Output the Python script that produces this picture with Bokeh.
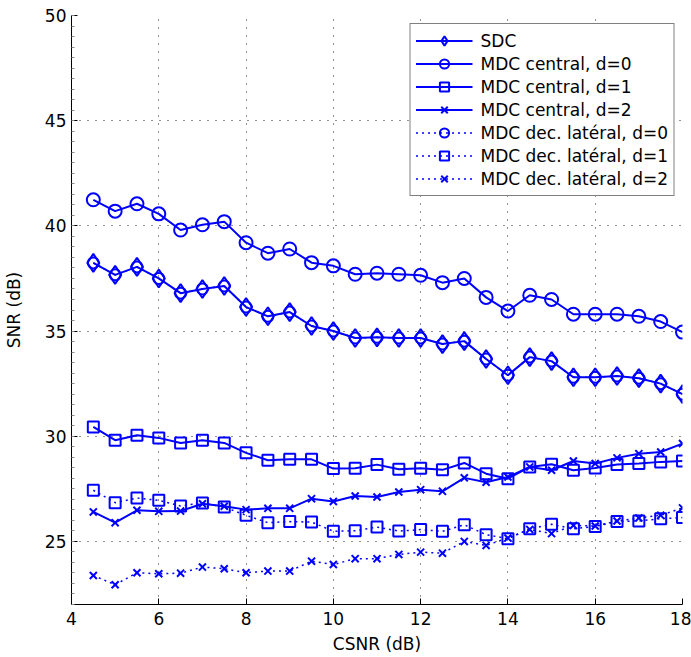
from bokeh.plotting import figure
from bokeh.embed import file_html
from bokeh.resources import INLINE
from bokeh.models import Range1d, FixedTicker, Legend, LegendItem

csnr = [4.5, 5, 5.5, 6, 6.5, 7, 7.5, 8, 8.5, 9, 9.5, 10, 10.5, 11, 11.5, 12,
        12.5, 13, 13.5, 14, 14.5, 15, 15.5, 16, 16.5, 17, 17.5, 18]

sdc = [38.24, 37.67, 38.05, 37.5, 36.8, 37.0, 37.14, 36.14, 35.7, 35.9, 35.24, 35.0,
       34.67, 34.7, 34.67, 34.67, 34.38, 34.52, 33.67, 32.9, 33.76, 33.57, 32.8, 32.8,
       32.86, 32.76, 32.5, 32.0]
mdc_c0 = [41.24, 40.7, 41.05, 40.57, 39.8, 40.05, 40.2, 39.2, 38.7, 38.9, 38.25, 38.1,
          37.7, 37.75, 37.7, 37.65, 37.3, 37.5, 36.6, 35.95, 36.7, 36.5, 35.8, 35.8,
          35.8, 35.7, 35.45, 34.95]
mdc_c1 = [30.44, 29.81, 30.05, 29.92, 29.68, 29.81, 29.68, 29.21, 28.86, 28.9, 28.9, 28.46,
          28.48, 28.65, 28.43, 28.48, 28.4, 28.73, 28.22, 27.98, 28.54, 28.67, 28.38, 28.49,
          28.65, 28.7, 28.78, 28.82]
mdc_c2 = [26.4, 25.89, 26.48, 26.43, 26.44, 26.79, 26.67, 26.51, 26.57, 26.57, 27.03, 26.9,
          27.16, 27.11, 27.35, 27.46, 27.38, 28.02, 27.81, 28.06, 28.54, 28.38, 28.82, 28.7,
          28.97, 29.17, 29.25, 29.65]
mdc_l0 = [38.24, 37.67, 38.05, 37.5, 36.8, 37.0, 37.14, 36.14, 35.7, 35.9, 35.24, 35.0,
          34.67, 34.7, 34.67, 34.67, 34.38, 34.52, 33.67, 32.9, 33.76, 33.57, 32.8, 32.8,
          32.86, 32.76, 32.5, 32.0]
mdc_l1 = [27.43, 26.84, 27.06, 26.95, 26.68, 26.83, 26.63, 26.24, 25.89, 25.94, 25.92, 25.48,
          25.51, 25.68, 25.49, 25.56, 25.48, 25.79, 25.32, 25.13, 25.6, 25.81, 25.6, 25.71,
          25.95, 25.97, 26.08, 26.13]
mdc_l2 = [23.38, 22.94, 23.51, 23.46, 23.49, 23.78, 23.7, 23.51, 23.59, 23.59, 24.06, 23.9,
          24.18, 24.18, 24.38, 24.49, 24.44, 25.0, 24.81, 25.16, 25.57, 25.37, 25.76, 25.73,
          25.97, 26.11, 26.24, 26.59]

labels = ["SDC", "MDC central, d=0", "MDC central, d=1", "MDC central, d=2",
          "MDC dec. lat\u00e9ral, d=0", "MDC dec. lat\u00e9ral, d=1", "MDC dec. lat\u00e9ral, d=2"]
x_ticks = [4, 6, 8, 10, 12, 14, 16, 18]
y_ticks = [25, 30, 35, 40, 45, 50]

FONT = "DejaVu Sans"
FS = "17px"
BLUE = "#0000ff"

p = figure(width=691, height=657, output_backend="svg", toolbar_location=None,
           x_range=Range1d(4, 18), y_range=Range1d(22, 50),
           min_border_left=67, min_border_right=9, min_border_top=15, min_border_bottom=53)
p.outline_line_color = None
p.background_fill_color = "white"
p.border_fill_color = "white"

for ax in (p.xaxis[0], p.yaxis[0]):
    ax.major_label_text_font = FONT
    ax.major_label_text_font_size = FS
    ax.major_label_text_color = "black"
    ax.axis_label_text_font = FONT
    ax.axis_label_text_font_size = FS
    ax.axis_label_text_font_style = "normal"
    ax.axis_label_text_color = "black"
    ax.axis_line_color = "black"
    ax.axis_line_width = 1
    ax.major_tick_in = 6
    ax.major_tick_out = 0
    ax.major_tick_line_color = "black"

p.xaxis[0].ticker = FixedTicker(ticks=x_ticks)
p.yaxis[0].ticker = FixedTicker(ticks=y_ticks, minor_ticks=[22 + 0.5 * i for i in range(57)])
p.xaxis[0].minor_tick_line_color = None
p.yaxis[0].minor_tick_in = 3
p.yaxis[0].minor_tick_out = 0
p.yaxis[0].minor_tick_line_color = "#888888"
p.xaxis[0].axis_label = "CSNR (dB)"
p.yaxis[0].axis_label = "SNR (dB)"
p.xaxis[0].major_label_standoff = 7
p.xaxis[0].axis_label_standoff = 6
p.yaxis[0].major_label_standoff = 5
p.yaxis[0].axis_label_standoff = 18

p.xgrid.ticker = FixedTicker(ticks=x_ticks)
p.ygrid.ticker = FixedTicker(ticks=y_ticks)
for g in (p.xgrid[0], p.ygrid[0]):
    g.grid_line_color = "#222222"
    g.grid_line_dash = "1 7"
    g.grid_line_width = 1

LW = 2
items = []

r_sdc_l = p.line(csnr, sdc, line_color=BLUE, line_width=LW)
r_sdc_m = p.scatter(csnr, sdc, marker="diamond", size=18, line_color=BLUE, line_width=LW, fill_color=None)
items.append(LegendItem(label=labels[0], renderers=[r_sdc_l, r_sdc_m]))

r0l = p.line(csnr, mdc_c0, line_color=BLUE, line_width=LW)
r0m = p.scatter(csnr, mdc_c0, marker="circle", size=13, line_color=BLUE, line_width=LW, fill_color=None)
items.append(LegendItem(label=labels[1], renderers=[r0l, r0m]))

r1l = p.line(csnr, mdc_c1, line_color=BLUE, line_width=LW)
r1m = p.scatter(csnr, mdc_c1, marker="square", size=11, line_color=BLUE, line_width=LW, fill_color=None)
items.append(LegendItem(label=labels[2], renderers=[r1l, r1m]))

r2l = p.line(csnr, mdc_c2, line_color=BLUE, line_width=LW)
r2m = p.scatter(csnr, mdc_c2, marker="x", size=10, line_color=BLUE, line_width=LW)
items.append(LegendItem(label=labels[3], renderers=[r2l, r2m]))

DOT = "2 4"
l0l = p.line(csnr, mdc_l0, line_color=BLUE, line_width=1.5, line_dash=DOT)
l0m = p.scatter(csnr, mdc_l0, marker="circle", size=11, line_color=BLUE, line_width=LW, fill_color=None)
items.append(LegendItem(label=labels[4], renderers=[l0l, l0m]))

l1l = p.line(csnr, mdc_l1, line_color=BLUE, line_width=1.5, line_dash=DOT)
l1m = p.scatter(csnr, mdc_l1, marker="square", size=11, line_color=BLUE, line_width=LW, fill_color=None)
items.append(LegendItem(label=labels[5], renderers=[l1l, l1m]))

l2l = p.line(csnr, mdc_l2, line_color=BLUE, line_width=1.5, line_dash=DOT)
l2m = p.scatter(csnr, mdc_l2, marker="x", size=10, line_color=BLUE, line_width=LW)
items.append(LegendItem(label=labels[6], renderers=[l2l, l2m]))

legend = Legend(items=items, location="top_right")
legend.label_text_font = FONT
legend.label_text_font_size = FS
legend.label_text_color = "black"
legend.glyph_width = 57
legend.glyph_height = 23
legend.label_height = 23
legend.label_standoff = 8
legend.spacing = 0
legend.padding = 5
legend.margin = 8
legend.border_line_color = "black"
legend.border_line_width = 1
legend.background_fill_color = "white"
legend.background_fill_alpha = 1
p.add_layout(legend)

open("out.html", "w").write(file_html(p, INLINE))
